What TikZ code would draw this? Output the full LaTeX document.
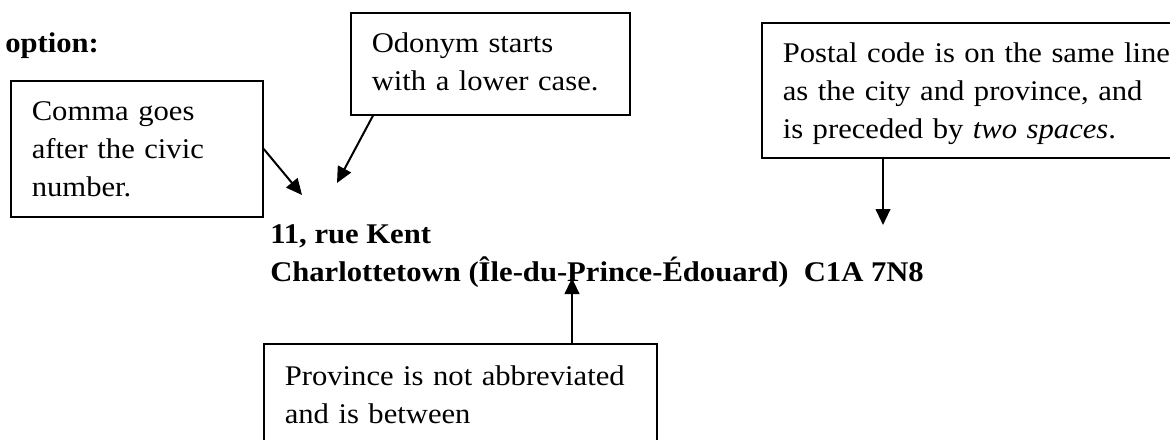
\documentclass[tikz,border=0pt]{standalone}
\usepackage{fontspec}
\setmainfont{Liberation Serif}[FakeStretch=1.075]
\usetikzlibrary{arrows.meta,calc}
\begin{document}
\begin{tikzpicture}[x=0.75pt,y=-0.75pt,
  every node/.style={font=\fontsize{21.375pt}{28.5pt}\selectfont},
  notebox/.style={draw, line width=1.2pt, anchor=north west, align=left,
    inner xsep=15.75pt, inner ysep=0pt, text height=30pt},
  addr/.style={anchor=base west, align=left, inner sep=0pt,
    font=\fontsize{21.375pt}{28.5pt}\selectfont\bfseries},
  conn/.style={line width=1.5pt, -{Triangle[length=12pt,width=11pt]}}]
\useasboundingbox (0,0) rectangle (1170,439);

\node[addr] (title) at (5,52) {option:};

\node[notebox, text width=157.5pt, text depth=72pt] (comma) at (10,80)
  {Comma goes\\after the civic\\number.};
\node[notebox, text width=177.75pt, text depth=46.5pt] (odonym) at (350,12)
  {Odonym starts\\with a lower case.};
\node[notebox, text width=297.75pt, text depth=71.25pt] (postal) at (761,22)
  {Postal code is on the same line\\as the city and province, and\\is preceded by \textit{two spaces}.};
\node[notebox, text width=263.25pt, text height=31.5pt, text depth=90pt] (prov) at (263,343)
  {Province is not abbreviated\\and is between};

\node[addr] (address) at (270,281)
  {11, rue Kent\\Charlottetown (Île-du-Prince-Édouard)\ \ C1A 7N8};

\coordinate (commatip) at (302,195);
\coordinate (odonymtip) at (337,183);
\coordinate (postaltip) at (883,225);
\coordinate (provtip) at (572,278);

\draw[conn] (comma.east) -- (commatip);
\draw[conn] ($(odonym.south west)+(23,0)$) -- (odonymtip);
\draw[conn] ($(postal.south west)+(122,0)$) -- (postaltip);
\draw[conn] ($(prov.north west)+(309,0)$) -- (provtip);
\end{tikzpicture}
\end{document}
